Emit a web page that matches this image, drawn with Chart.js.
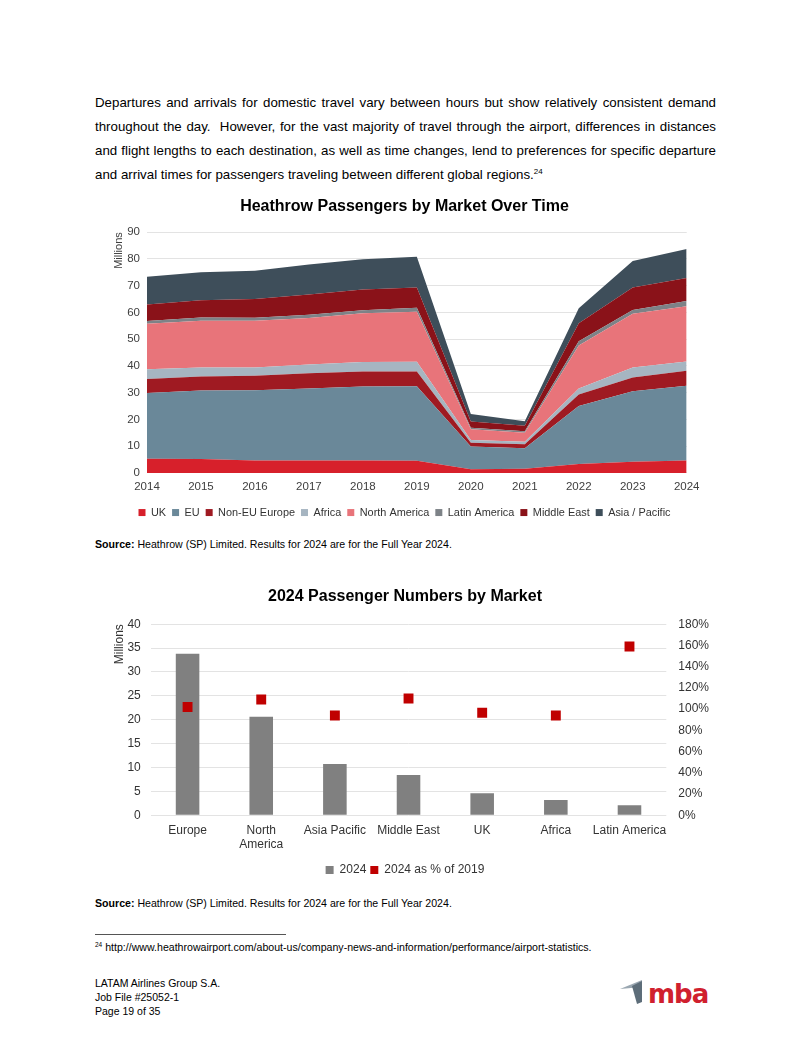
<!DOCTYPE html>
<html>
<head>
<meta charset="utf-8">
<script src="https://cdn.jsdelivr.net/npm/chart.js@4.4.1/dist/chart.umd.min.js"></script>
<style>
  html, body { margin: 0; padding: 0; background: #fff; }
  body { width: 811px; height: 1050px; position: relative; font-family: "Liberation Sans", Arial, sans-serif; color: #000; }
  .para { position: absolute; left: 95px; top: 91px; width: 621px; font-size: 13.3px; line-height: 24px; text-align: justify; }
  .para sup { font-size: 8px; vertical-align: 5px; line-height: 0; }
  .box { position: absolute; }
  .source { position: absolute; left: 95px; font-size: 10.6px; }
  .rule { position: absolute; left: 95px; top: 934px; width: 191px; border-top: 1px solid #555; }
  .fn { position: absolute; left: 95px; top: 941px; font-size: 10.6px; }
  .fn sup { font-size: 6.5px; vertical-align: 4px; line-height: 0; }
  .footer { position: absolute; left: 95px; top: 976px; font-size: 10.5px; line-height: 14px; }
  .logo { position: absolute; left: 618px; top: 972px; }
</style>
</head>
<body>
<div class="para">Departures and arrivals for domestic travel vary between hours but show relatively consistent demand throughout the day.&nbsp; However, for the vast majority of travel through the airport, differences in distances and flight lengths to each destination, as well as time changes, lend to preferences for specific departure and arrival times for passengers traveling between different global regions.<sup>24</sup></div>

<div class="box" style="left:94px; top:188px; width:619px; height:340px;"><canvas id="areaChart"></canvas></div>
<div class="source" style="top:538px;"><b>Source:</b> Heathrow (SP) Limited. Results for 2024 are for the Full Year 2024.</div>

<div class="box" style="left:89px; top:578px; width:632px; height:308px;"><canvas id="barChart"></canvas></div>
<div class="source" style="top:897px;"><b>Source:</b> Heathrow (SP) Limited. Results for 2024 are for the Full Year 2024.</div>

<div class="rule"></div>
<div class="fn"><sup>24</sup> http://www.heathrowairport.com/about-us/company-news-and-information/performance/airport-statistics.</div>

<div class="footer">LATAM Airlines Group S.A.<br>Job File #25052-1<br>Page 19 of 35</div>
<svg class="logo" width="100" height="38" viewBox="0 0 100 38">
  <polygon points="2,17 24,8 24,15" fill="#9aa7b1"/>
  <polygon points="14,14 24,9 24,30 19,32" fill="#5d6d79"/>
  <text x="30" y="31" font-family="DejaVu Sans, sans-serif" font-weight="bold" font-size="26" fill="#d0202e" letter-spacing="-1">mba</text>
</svg>

<script>
Chart.defaults.font.family = '"Liberation Sans", Arial, sans-serif';
Chart.defaults.color = '#404040';

// Heathrow passengers by market, millions
var years = ['2014', '2015', '2016', '2017', '2018', '2019', '2020', '2021', '2022', '2023', '2024'];
var markets = ['UK', 'EU', 'Non-EU Europe', 'Africa', 'North America', 'Latin America', 'Middle East', 'Asia / Pacific'];
var ukVals      = [5.3, 5.2, 4.7, 4.7, 4.7, 4.6, 1.4, 1.6, 3.3, 4.2, 4.7];
var euVals      = [24.6, 25.6, 26.2, 26.9, 27.6, 27.8, 8.5, 7.6, 21.7, 26.3, 27.9];
var nonEuVals   = [5.2, 5.3, 5.4, 5.7, 5.6, 5.5, 1.4, 1.5, 4.3, 5.2, 5.6];
var africaVals  = [3.7, 3.3, 3.1, 3.2, 3.6, 3.7, 1.0, 1.0, 2.3, 3.7, 3.5];
var northAmVals = [17.0, 17.5, 17.5, 17.4, 18.2, 18.7, 4.0, 3.3, 16.0, 20.1, 20.6];
var latAmVals   = [1.0, 1.2, 1.1, 1.2, 1.1, 1.5, 0.6, 0.6, 1.6, 1.4, 2.0];
var midEastVals = [6.2, 6.5, 7.0, 7.6, 7.8, 7.5, 2.3, 2.0, 6.8, 8.4, 8.6];
var asiaPacVals = [10.3, 10.4, 10.6, 11.2, 11.3, 11.5, 2.8, 1.7, 5.6, 9.9, 10.8];
var marketColors = ['#d7202b', '#6a8899', '#9f1a22', '#a6b5c1', '#e8747a', '#7d8287', '#8a1219', '#3e4e5a'];

// 2024 passenger numbers by market
var barCats = ['Europe', ['North', 'America'], 'Asia Pacific', 'Middle East', 'UK', 'Africa', 'Latin America'];
var pax2024 = [33.8, 20.6, 10.7, 8.4, 4.6, 3.2, 2.1];
var pctOf2019 = [1.02, 1.09, 0.94, 1.10, 0.965, 0.94, 1.59];

var areaSeries = [ukVals, euVals, nonEuVals, africaVals, northAmVals, latAmVals, midEastVals, asiaPacVals];
var areaSets = [];
for (var i = 0; i < areaSeries.length; i++) {
    areaSets.push({
        label: markets[i],
        data: areaSeries[i],
        backgroundColor: marketColors[i],
        borderColor: marketColors[i],
        borderWidth: 0,
        pointRadius: 0,
        fill: i === 0 ? 'origin' : '-1',
        tension: 0
    });
}

new Chart(document.getElementById('areaChart'), {
    type: 'line',
    data: { labels: years, datasets: areaSets },
    options: {
        responsive: true,
        maintainAspectRatio: false,
        animation: false,
        layout: { padding: { left: 2, right: 0, top: 0, bottom: 0 } },
        plugins: {
            title: {
                display: true,
                text: 'Heathrow Passengers by Market Over Time',
                color: '#000',
                font: { size: 16, weight: 'bold' },
                padding: { top: 9, bottom: 16 }
            },
            legend: {
                position: 'bottom',
                labels: { boxWidth: 7, boxHeight: 7, font: { size: 10.9 }, color: '#333', padding: 6 }
            },
            tooltip: { enabled: false }
        },
        scales: {
            x: {
                grid: { display: false, drawTicks: false },
                border: { display: false },
                ticks: { font: { size: 11.5, lineHeight: 0.1 }, color: '#404040', maxRotation: 0, padding: 13.5 }
            },
            y: {
                stacked: true,
                min: 0,
                max: 90,
                ticks: { stepSize: 10, font: { size: 11.5 }, color: '#404040', padding: 7 },
                grid: { color: '#e3e3e3', drawTicks: false },
                border: { display: false },
                title: { display: true, text: 'Millions', align: 'end', font: { size: 11 }, color: '#404040', padding: { top: 16, bottom: -5 } }
            }
        }
    }
});

new Chart(document.getElementById('barChart'), {
    data: {
        labels: barCats,
        datasets: [{
            type: 'bar',
            label: '2024',
            data: pax2024,
            backgroundColor: '#808080',
            barPercentage: 0.32,
            categoryPercentage: 1,
            yAxisID: 'y',
            order: 2
        }, {
            type: 'line',
            label: '2024 as % of 2019',
            data: pctOf2019,
            showLine: false,
            pointStyle: 'rect',
            pointRadius: 7,
            pointBackgroundColor: '#c00000',
            pointBorderWidth: 0,
            backgroundColor: '#c00000',
            borderColor: '#c00000',
            borderWidth: 0,
            yAxisID: 'y1',
            order: 1
        }]
    },
    options: {
        responsive: true,
        maintainAspectRatio: false,
        animation: false,
        layout: { padding: { left: 0, right: 0, top: 0, bottom: 0 } },
        plugins: {
            title: {
                display: true,
                text: '2024 Passenger Numbers by Market',
                color: '#000',
                font: { size: 16, weight: 'bold' },
                padding: { top: 9, bottom: 18 }
            },
            legend: {
                position: 'bottom',
                labels: {
                    boxWidth: 8, boxHeight: 8, font: { size: 12 }, color: '#333', padding: 4,
                    sort: function(a, b) { return a.datasetIndex - b.datasetIndex; }
                }
            },
            tooltip: { enabled: false }
        },
        scales: {
            x: {
                grid: { display: false, drawTicks: false },
                border: { display: false },
                ticks: { font: { size: 12 }, color: '#333', maxRotation: 0, autoSkip: false, padding: 8 }
            },
            y: {
                position: 'left',
                min: 0,
                max: 40,
                ticks: { stepSize: 5, font: { size: 12 }, color: '#333', padding: 10 },
                grid: { color: '#e3e3e3', drawTicks: false },
                border: { display: false },
                title: { display: true, text: 'Millions', align: 'end', font: { size: 12 }, color: '#333', padding: { top: 23, bottom: -9 } }
            },
            y1: {
                position: 'right',
                min: 0,
                max: 1.8,
                grid: { display: false, drawTicks: false },
                border: { display: false },
                ticks: {
                    stepSize: 0.2,
                    font: { size: 12 },
                    color: '#333',
                    padding: 12,
                    callback: function(v) { return Math.round(v * 100) + '%'; }
                }
            }
        }
    }
});
</script>
</body>
</html>
